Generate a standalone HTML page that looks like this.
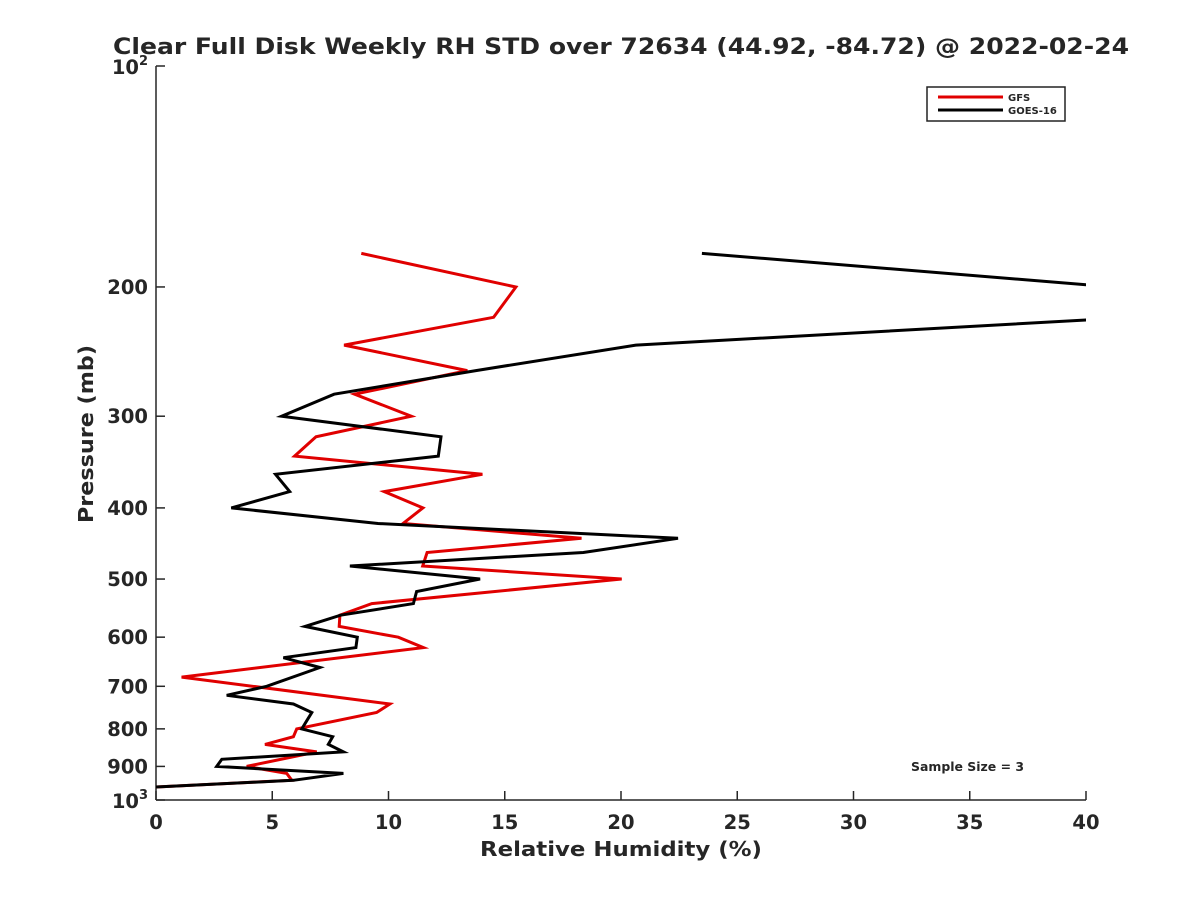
<!DOCTYPE html>
<html><head><meta charset="utf-8"><style>
body{margin:0;background:#fff;}
svg text{font-family:"DejaVu Sans","Liberation Sans",sans-serif;font-weight:bold;fill:#262626;}
</style></head><body>
<svg id="chart" width="1200" height="900" viewBox="0 0 1200 900">
<defs><clipPath id="clip"><rect x="156" y="66" width="930" height="734"/></clipPath></defs>
<text x="113" y="54" font-size="22" textLength="1016" lengthAdjust="spacingAndGlyphs" fill="#000">Clear Full Disk Weekly RH STD over 72634 (44.92, -84.72) @ 2022-02-24</text>
<g id="axes"></g>
<g id="series" clip-path="url(#clip)"></g>
<g>
<rect x="927" y="87" width="138" height="34" fill="#fff" stroke="#222" stroke-width="1.5"/>
<line x1="938" y1="97" x2="1003" y2="97" stroke="#e00000" stroke-width="3"/>
<text x="1008" y="101" font-size="10">GFS</text>
<line x1="938" y1="110" x2="1003" y2="110" stroke="#000" stroke-width="3"/>
<text x="1008" y="114" font-size="10">GOES-16</text>
</g>
<text x="911" y="771" font-size="12" textLength="113" lengthAdjust="spacingAndGlyphs" fill="#000">Sample Size = 3</text>
<text x="480" y="856" font-size="20" textLength="282" lengthAdjust="spacingAndGlyphs">Relative Humidity (%)</text>
<text transform="translate(93,523) rotate(-90)" font-size="20" textLength="178" lengthAdjust="spacingAndGlyphs">Pressure (mb)</text>
</svg>
<script>
const gfsPressure = [180,200,220,240,260,280,300,320,340,360,380,400,420,440,460,480,500,540,560,580,600,620,680,740,760,800,820,840,860,900,920,940,960];
const gfsValues = [8.83,15.48,14.52,8.09,13.39,8.54,10.98,6.88,5.96,14.04,9.82,11.48,10.63,18.30,11.66,11.47,20.03,9.28,7.91,7.88,10.42,11.50,1.10,10.06,9.49,6.05,5.91,4.69,6.91,3.90,5.62,5.84,-0.05];
const goesPressure = [180,200,220,240,260,280,300,320,340,360,380,400,420,440,460,480,500,520,540,560,580,600,620,640,660,700,720,740,760,780,800,820,840,860,880,900,920,940,960];
const goesValues = [23.48,41.2,42.1,20.64,13.76,7.66,5.40,12.26,12.14,5.14,5.75,3.24,9.55,22.45,18.38,8.34,13.94,11.21,11.07,7.94,6.41,8.66,8.60,5.48,7.05,4.76,3.04,5.91,6.70,6.48,6.27,7.60,7.41,8.06,2.83,2.61,8.06,5.91,0];
const xTicks = [0,5,10,15,20,25,30,35,40];
const yTicks = [200,300,400,500,600,700,800,900];

const NS = "http://www.w3.org/2000/svg";
const X0=156,X1=1086,Y0=66,Y1=800;
function xs(v){return X0+(v-0)/(40-0)*(X1-X0);}
function ys(p){return Y0+(Math.log10(p)-2)*(Y1-Y0);}
function mk(tag,attrs,parent){const e=document.createElementNS(NS,tag);for(const k in attrs)e.setAttribute(k,attrs[k]);parent.appendChild(e);return e;}
const axes=document.getElementById('axes');
const series=document.getElementById('series');

const yAxis=mk('line',{x1:X0,y1:Y0,x2:X0,y2:Y1,stroke:'#262626','stroke-width':1.5},axes);


const xAxis=mk('line',{x1:X0,y1:Y1,x2:X1,y2:Y1,stroke:'#262626','stroke-width':1.5},axes);



xTicks.forEach(t=>{
  const x=xs(t);
  const tk=mk('line',{x1:x,y1:Y1,x2:x,y2:Y1-9,stroke:'#262626','stroke-width':1.5},axes);
  
  
  const tx=mk('text',{x:x,y:Y1+29,'text-anchor':'middle','font-size':19.5},axes);
  tx.textContent=t;
  
  
});
[100,1000].concat(yTicks).forEach(p=>{
  const y=ys(p);
  const tk=mk('line',{x1:X0,y1:y,x2:X0+9,y2:y,stroke:'#262626','stroke-width':1.5},axes);
  
  
});
yTicks.forEach(p=>{
  const tx=mk('text',{x:X0-8,y:ys(p)+7,'text-anchor':'end','font-size':19.5},axes);
  tx.textContent=p;
  
  
});
[[100,'2'],[1000,'3']].forEach(([p,e])=>{
  const tx=mk('text',{x:X0-8,y:ys(p)+8,'text-anchor':'end','font-size':19.5},axes);
  
  
  const b=mk('tspan',{},tx);b.textContent='10';
  const s=mk('tspan',{dy:-9,'font-size':13},tx);s.textContent=e;
});

function line(pr,vals,color,name){
  const pts=pr.map((p,i)=>xs(vals[i]).toFixed(1)+','+ys(p).toFixed(1)).join(' ');
  const pl=mk('polyline',{points:pts,fill:'none',stroke:color,'stroke-width':3,'stroke-linejoin':'miter'},series);
  
  
}
line(gfsPressure,gfsValues,'#e00000','gfs-line');
line(goesPressure,goesValues,'#000000','goes16-line');
</script>
</body></html>
